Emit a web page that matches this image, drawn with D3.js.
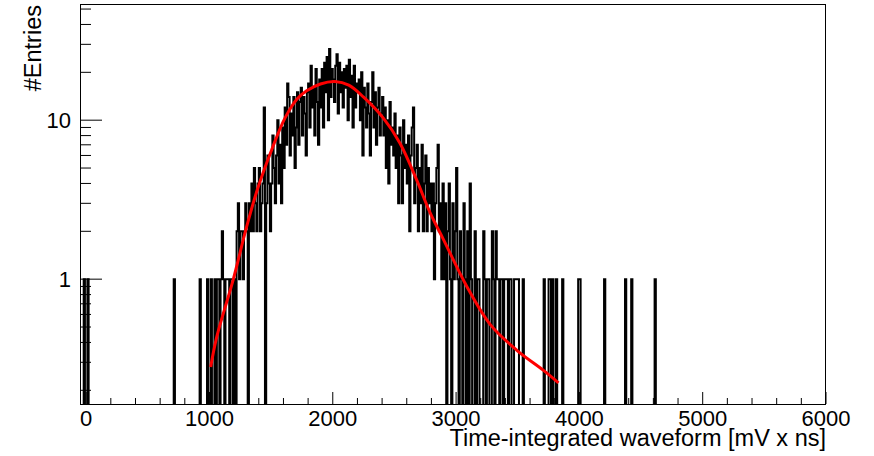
<!DOCTYPE html>
<html><head><meta charset="utf-8">
<script src="https://cdn.jsdelivr.net/npm/d3@7"></script>
<style>body{margin:0;background:#fff}svg{display:block;font-family:"Liberation Sans",Arial,Helvetica,sans-serif}</style>
</head><body><svg id="c" width="874" height="456"></svg>
<script>
// ---------------- data ----------------
const binWidth = 10;
const xDomain = [-50, 6000];
const yDomain = [0.164, 53.8];
const mainStart = 1000; // lower edge of first bin of mainCounts
const mainCounts = [
  0,1,0,0,1,0,1,1,0,1,        // 1000
  2,1,0,1,1,1,0,1,1,0,        // 1100
  1,0,2,3,1,2,2,1,2,3,        // 1200
  2,0,3,2,4,2,5,3,2,4,        // 1300
  5,2,3,4,12,0,3,6,4,2,       // 1400
  4,8,5,3,6,10,4,7,3,9,       // 1500
  5,12,7,17,14,6,11,8,14,5,   // 1600
  9,15,7,13,16,8,14,11,6,15,  // 1700
  17,9,22,12,16,8,21,13,7,18, // 1800
  12,21,9,23,15,25,10,28,14,21, // 1900
  18,13,22,26,11,23,15,20,12,21, // 2000
  16,22,10,24,14,19,9,22,12,17,  // 2100
  15,18,10,20,6,16,12,9,17,11,   // 2200
  6,13,20,9,15,7,12,16,8,11,     // 2300
  14,8,12,5,10,4,13,7,9,6,       // 2400
  11,5,8,3,9,6,3,10,5,7,         // 2500
  4,8,2,6,9,12,3,5,7,2,          // 2600
  5,3,7,2,4,6,2,5,3,4,           // 2700
  2,4,1,3,5,7,2,3,1,4,           // 2800
  1,3,0,2,4,1,0,3,1,2,           // 2900
  5,1,0,2,1,0,3,1,0,2,           // 3000
  0,4,1,0,0,2,0,1,1,0,           // 3100
  0,0,2,1,0,1,1,0,0,2,           // 3200
  1,0,2,1,1,0,1,1,0,1,           // 3300
  1,1,0,1,1,0,0,1,1,1,           // 3400
  1,0,0,0,1,0,0,0,0,0            // 3500
];
const extraBins   = [-20, 10, 710, 920, 980, 3710, 3750, 3760, 3780, 3810, 3860, 3990, 4000, 4200, 4370, 4420, 4610];
const extraCounts = [  1,  1,   1,   1,   1,    1,    1,    1,    1,    1,    1,    1,    1,    1,    1,    1,    1];

const fitX = [1010, 1058, 1192, 1301, 1395, 1504, 1612, 1707, 1788, 1900, 2018, 2130, 2248, 2410, 2545, 2681, 2789, 2897, 3087, 3276, 3493, 3709, 3830];
const fitY = [0.28, 0.43, 0.99, 2.13, 3.8, 6.5, 10.3, 13.5, 15.3, 16.9, 17.5, 16.6, 14.0, 10.3, 7.17, 4.2, 2.62, 1.78, 0.90, 0.52, 0.357, 0.267, 0.223];

const xMajorTicks = [0, 1000, 2000, 3000, 4000, 5000, 6000];
const xMinorStep = 200;
const yMajorTicks = [1, 10];
const yMinorTicks = [0.2,0.3,0.4,0.5,0.6,0.7,0.8,0.9,2,3,4,5,6,7,8,9,20,30,40,50];
const xTitle = "Time-integrated waveform [mV x ns]";
const yTitle = "#Entries";

// ---------------- layout ----------------
const L = 80, R = 826, T = 4, B = 404;
const svg = d3.select("#c");
const x = d3.scaleLinear().domain(xDomain).range([L, R]);
const y = d3.scaleLog().domain(yDomain).range([B, T]);

svg.append("defs").append("clipPath").attr("id","clip")
  .append("rect").attr("x",L).attr("y",T).attr("width",R-L).attr("height",B-T);

// build full bin table
const nBins = Math.round((xDomain[1]-xDomain[0])/binWidth);
const counts = new Array(nBins).fill(0);
mainCounts.forEach((c,i)=>{ const k = Math.round((mainStart + i*binWidth - xDomain[0])/binWidth); counts[k] = c; });
extraBins.forEach((b,i)=>{ const k = Math.round((b - xDomain[0])/binWidth); counts[k] = extraCounts[i]; });
const pts = counts.map((c,i)=>({lo: xDomain[0]+i*binWidth, c}));
pts.push({lo: xDomain[1], c: counts[nBins-1]});

const yv = c => c > 0 ? y(c) : B + 5;

const g = svg.append("g").attr("clip-path","url(#clip)");
g.append("path")
  .attr("d", d3.line().x(d=>x(d.lo)).y(d=>yv(d.c)).curve(d3.curveStepAfter)(pts))
  .attr("fill","none").attr("stroke","#000").attr("stroke-width",2);

g.append("path")
  .attr("d", d3.line().x((d,i)=>x(fitX[i])).y((d,i)=>y(fitY[i])).curve(d3.curveCatmullRom.alpha(0.5))(fitX))
  .attr("fill","none").attr("stroke","#ff0000").attr("stroke-width",3);

// frame
svg.append("rect").attr("x",L+0.5).attr("y",T+0.5).attr("width",R-L-1).attr("height",B-T)
  .attr("fill","none").attr("stroke","#000").attr("stroke-width",1);

// x ticks
const ax = svg.append("g");
d3.range(0, xDomain[1]+1, xMinorStep).forEach(v=>{
  const major = xMajorTicks.includes(v);
  ax.append("line").attr("x1",x(v)).attr("x2",x(v)).attr("y1",B).attr("y2",B-(major?12:6))
    .attr("stroke","#000").attr("stroke-width",1);
});
xMajorTicks.forEach(v=>{
  ax.append("text").attr("x",x(v)).attr("y",426).attr("text-anchor","middle")
    .attr("font-size",22).text(v);
});
// y ticks
yMinorTicks.forEach(v=>{
  ax.append("line").attr("x1",L).attr("x2",L+11).attr("y1",y(v)).attr("y2",y(v))
    .attr("stroke","#000").attr("stroke-width",1);
});
yMajorTicks.forEach(v=>{
  ax.append("line").attr("x1",L).attr("x2",L+22).attr("y1",y(v)).attr("y2",y(v))
    .attr("stroke","#000").attr("stroke-width",1);
  ax.append("text").attr("x",71).attr("y",y(v)+8).attr("text-anchor","end")
    .attr("font-size",22).text(v);
});
// titles
svg.append("text").attr("x",R).attr("y",446).attr("text-anchor","end")
  .attr("font-size",23.5).text(xTitle);
svg.append("text").attr("transform","translate(40.7,5) rotate(-90)").attr("text-anchor","end")
  .attr("font-size",23.5).text(yTitle);
</script></body></html>
